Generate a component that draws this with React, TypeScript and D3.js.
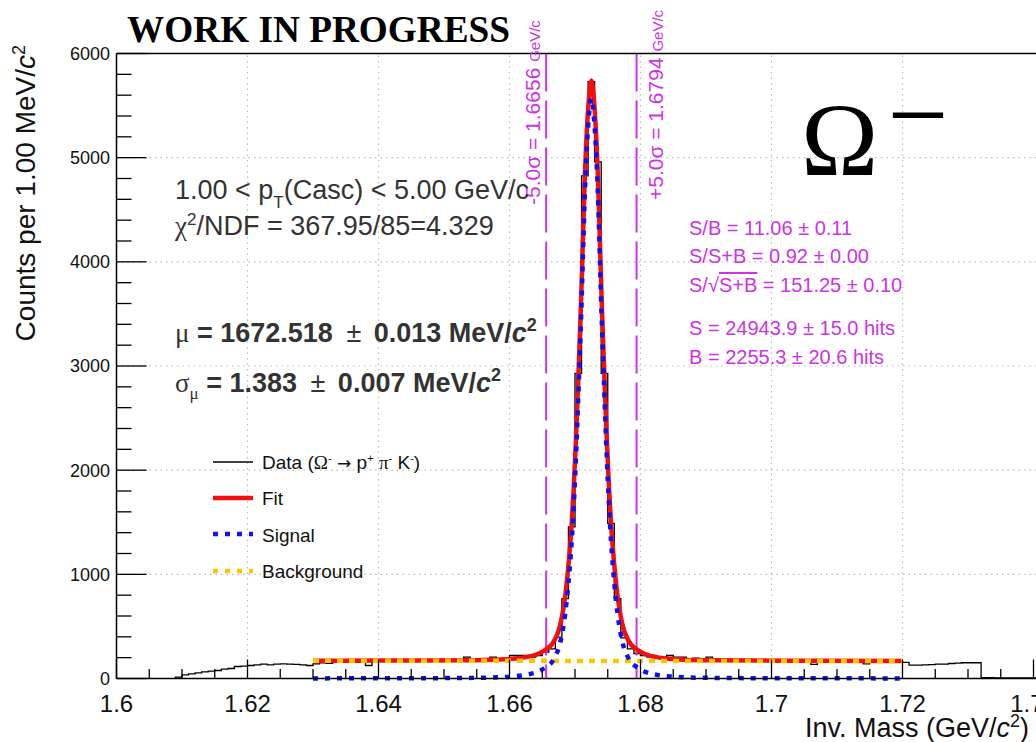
import React from 'react';
import * as d3 from 'd3';

// ---------- data ----------
const xTickValues = [1.6, 1.62, 1.64, 1.66, 1.68, 1.7, 1.72, 1.74];
const xTickLabels = ['1.6', '1.62', '1.64', '1.66', '1.68', '1.7', '1.72', '1.74'];
const yTickValues = [0, 1000, 2000, 3000, 4000, 5000, 6000];
const yTickLabels = ['0', '1000', '2000', '3000', '4000', '5000', '6000'];

// histogram: 1 MeV bins starting at 1.609 GeV
const histStart = 1.609;
const binWidth = 0.001;
const histCounts = [
  13, 35, 45, 54, 64, 70, 77, 90, 96, 115, // 1.609-1.618
  119, 125, 131, 138, 131, 138, 141, 138, 135, 131, // 1.619-1.628
  125, 140, 150, 146, 158, 160, 165, 158, 160, 125, // 1.629-1.638
  165, 170, 168, 172, 165, 170, 175, 168, 172, 176, // 1.639-1.648
  170, 178, 174, 180, 205, 185, 178, 190, 205, 190, // 1.649-1.658
  185, 221, 221, 221, 205, 221, 253, 285, 397, 766, // 1.659-1.668
  1455, 2930, 4825, 5730, 4960, 2930, 1490, 766, 390, 285, // 1.669-1.678
  240, 221, 205, 200, 205, 221, 205, 205, 180, 196, // 1.679-1.688
  185, 205, 178, 172, 180, 168, 175, 170, 165, 172, // 1.689-1.698
  168, 160, 170, 165, 175, 160, 158, 135, 165, 170, // 1.699-1.708
  160, 165, 168, 158, 162, 140, 160, 165, 158, 160, // 1.709-1.718
  165, 154, 128, 128, 131, 134, 138, 138, 144, 147, // 1.719-1.728
  151, 151, 151, 8, 8, 6, 6, 5, 5, 5, // 1.729-1.738
  5, 5, 5 // 1.739-1.741
];

// signal component
const signalMass = [
  1.630, 1.640, 1.6475, 1.6545, 1.6585, 1.6605, 1.6625, 1.6645, 1.6657, 1.6665,
  1.6670, 1.6675, 1.6680, 1.6685, 1.6690, 1.6695, 1.6698, 1.6702, 1.6706, 1.67095,
  1.6713, 1.6715, 1.6717, 1.6721, 1.6725, 1.6729, 1.6733, 1.6735, 1.6737, 1.67405,
  1.6744, 1.6748, 1.6752, 1.6755, 1.6760, 1.6765, 1.6770, 1.6775, 1.6780, 1.6785,
  1.6793, 1.6805, 1.6825, 1.6845, 1.6865, 1.6905, 1.6975, 1.7050, 1.7200
];
const signalCounts = [
  1, 2, 3, 6, 12, 20, 35, 70, 115, 160,
  215, 290, 420, 620, 920, 1320, 1650, 2200, 2880, 3500,
  4250, 4650, 4950, 5380, 5570, 5380, 4950, 4650, 4250, 3500,
  2880, 2200, 1650, 1320, 920, 620, 420, 290, 215, 160,
  115, 70, 35, 20, 12, 6, 3, 2, 1
];
// total fit (red) read at the same masses
const fitCounts = [
  171, 172, 173, 176, 182, 190, 205, 240, 285, 330,
  385, 460, 590, 790, 1090, 1490, 1820, 2370, 3050, 3670,
  4420, 4820, 5120, 5550, 5740, 5550, 5120, 4820, 4420, 3670,
  3050, 2370, 1820, 1490, 1090, 790, 590, 460, 385, 330,
  285, 240, 205, 189, 181, 175, 172, 171, 169
];
// background (yellow)
const bkgMass = [1.630, 1.720];
const bkgCounts = [170, 168];

// +-5 sigma window
const windowMass = [1.6656, 1.6794];

const legendLabels = ['Fit', 'Signal', 'Background'];

// ---------- component ----------
export default function App() {
  const x = d3.scaleLinear().domain([1.6, 1.74]).range([116.5, 1033.5]);
  const y = d3.scaleLinear().domain([0, 6000]).range([678.5, 53.5]);

  const left = 116.5, top = 53.5, bottom = 678.5, right = 1040;
  const sans = '"Liberation Sans", Arial, Helvetica, sans-serif';
  const serif = '"Liberation Serif", "Times New Roman", serif';
  const magenta = '#cc33e6';
  const textGrey = '#333';

  const minorX = d3.range(0, 29).map((i) => 1.6 + i * 0.005);
  const minorY = d3.range(0, 31).map((i) => i * 200);

  const histPts: [number, number][] = [[x(histStart), y(0)]];
  histCounts.forEach((c, i) => {
    const m0 = histStart + i * binWidth;
    histPts.push([x(m0), y(c)], [x(m0 + binWidth), y(c)]);
  });
  const line = d3.line<[number, number]>();
  const histPath = line(histPts) || '';

  const curve = d3
    .line<[number, number]>()
    .x((d) => x(d[0]))
    .y((d) => y(d[1]))
    .curve(d3.curveMonotoneX);
  const signalPath = curve(signalMass.map((m, i) => [m, signalCounts[i]])) || '';
  const fitPath = curve(signalMass.map((m, i) => [m, fitCounts[i]])) || '';
  const bkgPath = curve(bkgMass.map((m, i) => [m, bkgCounts[i]])) || '';

  const gridDash = '1.5,4';

  return (
    <svg
      width={1036}
      height={742}
      style={{ position: 'absolute', left: 0, top: 0, background: '#fff' }}
    >
      <rect x={0} y={0} width={1036} height={742} fill="#fff" />
      {/* grid */}
      {xTickValues
        .filter((v) => v > 1.61 && v < 1.73)
        .map((v) => (
          <line key={'gx' + v} x1={x(v)} x2={x(v)} y1={bottom} y2={top}
            stroke="#bbb" strokeWidth={1.2} strokeDasharray={gridDash} />
        ))}
      {yTickValues
        .filter((v) => v > 0 && v < 6000)
        .map((v) => (
          <line key={'gy' + v} x1={left} x2={right} y1={y(v)} y2={y(v)}
            stroke="#bbb" strokeWidth={1.2} strokeDasharray={gridDash} />
        ))}

      {/* histogram */}
      <path d={histPath} fill="none" stroke="#000" strokeWidth={1.3} />

      {/* window lines */}
      {windowMass.map((m) => (
        <line key={'w' + m} x1={x(m)} x2={x(m)} y1={top} y2={bottom}
          stroke={magenta} strokeWidth={2} strokeDasharray="38,9" />
      ))}

      {/* curves */}
      <path d={fitPath} fill="none" stroke="#f20f0f" strokeWidth={4.5} />
      <path d={bkgPath} fill="none" stroke="#ffc400" strokeWidth={4.5} strokeDasharray="6,6" />
      <path d={signalPath} fill="none" stroke="#1010f0" strokeWidth={4.5} strokeDasharray="5,7" />

      {/* frame / axes */}
      <line x1={left} x2={right} y1={top} y2={top} stroke="#000" strokeWidth={1.5} />
      <line x1={left} x2={left} y1={top} y2={bottom} stroke="#000" strokeWidth={1.5} />
      <line x1={left} x2={right} y1={bottom} y2={bottom} stroke="#000" strokeWidth={1.5} />
      {minorX.map((v, i) => (
        <line key={'mx' + i} x1={x(v)} x2={x(v)} y1={bottom}
          y2={bottom - (i % 4 === 0 ? 19 : 9.5)} stroke="#000" strokeWidth={1.3} />
      ))}
      {minorY.filter((v) => v <= 6000).map((v, i) => (
        <line key={'my' + i} x1={left} x2={left + (v % 1000 === 0 ? 30 : 15)}
          y1={y(v)} y2={y(v)} stroke="#000" strokeWidth={1.3} />
      ))}
      {xTickValues.map((v, i) => (
        <text key={'xl' + v} x={x(v)} y={712} fontSize={24} fontFamily={sans}
          textAnchor="middle" fill="#111">{xTickLabels[i]}</text>
      ))}
      {yTickValues.map((v, i) => (
        <text key={'yl' + v} x={110} y={y(v)} dy="0.36em" fontSize={18} fontFamily={sans}
          textAnchor="end" fill="#111">{yTickLabels[i]}</text>
      ))}

      {/* axis titles */}
      <text x={1029} y={737} fontSize={27} fontFamily={sans} textAnchor="end" fill="#111">
        Inv. Mass (GeV/<tspan fontStyle="italic">c</tspan>
        <tspan dy={-10} fontSize={18}>2</tspan>
        <tspan dy={10}>)</tspan>
      </text>
      <text transform="translate(35,45) rotate(-90)" fontSize={28} fontFamily={sans}
        textAnchor="end" fill="#111">
        Counts per 1.00 MeV/<tspan fontStyle="italic">c</tspan>
        <tspan dy={-10} fontSize={18}>2</tspan>
      </text>

      {/* header */}
      <text x={127} y={42} fontSize={37} fontFamily={serif} fontWeight="bold"
        textLength={383} lengthAdjust="spacingAndGlyphs" fill="#000">WORK IN PROGRESS</text>
      <text x={801} y={175} fontSize={104} fontFamily={serif} fill="#000">
        Ω<tspan dx={9} dy={-24} fontSize={108}>−</tspan>
      </text>

      {/* window labels */}
      <text transform={`translate(${x(windowMass[0]) - 6},205) rotate(-90)`} fontFamily={sans}
        fill={magenta} fontSize={21}>
        -5.0σ = 1.6656 <tspan fontSize={15}>GeV/c</tspan>
      </text>
      <text transform={`translate(${x(windowMass[1]) + 26},200) rotate(-90)`} fontFamily={sans}
        fill={magenta} fontSize={21}>
        +5.0σ = 1.6794 <tspan fontSize={15}>GeV/c</tspan>
      </text>

      {/* fit info */}
      <text x={175} y={199} fontSize={27} fontFamily={sans} fill={textGrey}>
        1.00 &lt; p<tspan dy={9} fontSize={17}>T</tspan>
        <tspan dy={-9}>(Casc) &lt; 5.00 GeV/c</tspan>
      </text>
      <text x={175} y={235} fontSize={27} fontFamily={sans} fill={textGrey}>
        <tspan fontFamily={serif}>χ</tspan>
        <tspan dy={-10} fontSize={17}>2</tspan>
        <tspan dy={10}>/NDF = 367.95/85=4.329</tspan>
      </text>
      <text x={175} y={342} fontSize={27} fontFamily={sans} fill={textGrey}>
        <tspan fontFamily={serif}>μ</tspan>
        <tspan fontWeight="bold"> = 1672.518 </tspan>
        <tspan dx={6}>±</tspan>
        <tspan fontWeight="bold" dx={5}> 0.013 MeV/</tspan>
        <tspan fontWeight="bold" fontStyle="italic">c</tspan>
        <tspan dy={-11} fontSize={18} fontWeight="bold">2</tspan>
      </text>
      <text x={175} y={392} fontSize={27} fontFamily={sans} fill={textGrey}>
        <tspan fontFamily={serif}>σ</tspan>
        <tspan dy={7} fontSize={17} fontFamily={serif}>μ</tspan>
        <tspan dy={-7} fontWeight="bold"> = 1.383 </tspan>
        <tspan dx={6}>±</tspan>
        <tspan fontWeight="bold" dx={5}> 0.007 MeV/</tspan>
        <tspan fontWeight="bold" fontStyle="italic">c</tspan>
        <tspan dy={-11} fontSize={18} fontWeight="bold">2</tspan>
      </text>

      {/* significance block */}
      <g fontFamily={sans} fontSize={20} fill={magenta}>
        <text x={689} y={235}>S/B = 11.06 ± 0.11</text>
        <text x={689} y={263}>S/S+B = 0.92 ± 0.00</text>
        <text x={689} y={292}>
          S/√<tspan style={{ textDecoration: 'overline' }}>S+B</tspan> = 151.25 ± 0.10
        </text>
        <text x={689} y={335}>S = 24943.9 ± 15.0 hits</text>
        <text x={689} y={364}>B = 2255.3 ± 20.6 hits</text>
      </g>

      {/* legend */}
      <line x1={213} x2={253} y1={462} y2={462} stroke="#000" strokeWidth={1.5} />
      <line x1={213} x2={253} y1={498} y2={498} stroke="#f20f0f" strokeWidth={4.5} />
      <line x1={213} x2={253} y1={534} y2={534} stroke="#1010f0" strokeWidth={4.5} strokeDasharray="5,7" />
      <line x1={213} x2={253} y1={571} y2={571} stroke="#ffc400" strokeWidth={4.5} strokeDasharray="5,7" />
      <g fontFamily={sans} fontSize={19} fill="#111">
        <text x={262} y={469}>
          Data (<tspan fontFamily={serif}>Ω</tspan>
          <tspan dy={-7} fontSize={11}>-</tspan>
          <tspan dy={7} fontFamily={'"DejaVu Sans", sans-serif'} fontSize={17}> → </tspan>
          <tspan>p</tspan>
          <tspan dy={-7} fontSize={11}>+</tspan>
          <tspan dy={7}> </tspan>
          <tspan fontFamily={serif}>π</tspan>
          <tspan dy={-7} fontSize={11}>-</tspan>
          <tspan dy={7}> K</tspan>
          <tspan dy={-7} fontSize={11}>-</tspan>
          <tspan dy={7}>)</tspan>
        </text>
        {legendLabels.map((l, i) => (
          <text key={l} x={262} y={505 + i * 36.5}>{l}</text>
        ))}
      </g>
    </svg>
  );
}
